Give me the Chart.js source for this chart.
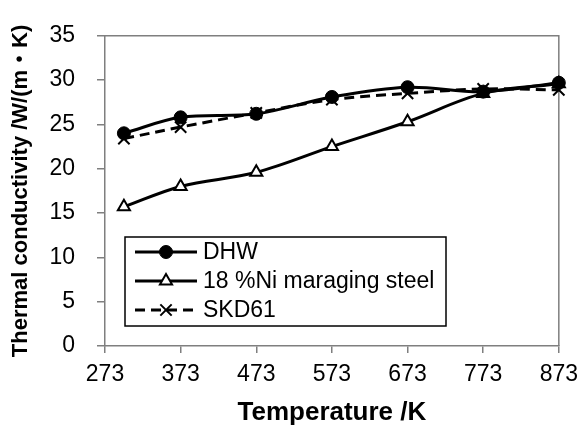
<!DOCTYPE html>
<html>
<head>
<meta charset="utf-8">
<script src="https://cdn.jsdelivr.net/npm/chart.js@4"></script>
<style>
  html, body { margin: 0; padding: 0; background: #fff; }
  #wrap { width: 586px; height: 428px; }
</style>
</head>
<body>
<div id="wrap"><canvas id="chart" width="586" height="428"></canvas></div>
<script>
// Datos
const temperatures = [298, 373, 473, 573, 673, 773, 873];
const dhwValues = [24.0, 25.8, 26.2, 28.1, 29.2, 28.7, 29.7];
const maragingValues = [15.7, 18.0, 19.6, 22.5, 25.3, 28.5, 29.6];
const skd61Values = [23.4, 24.7, 26.3, 27.8, 28.5, 29.0, 28.9];
const xTickValues = [273, 373, 473, 573, 673, 773, 873];

const seriesNames = ["DHW", "18 %Ni maraging steel", "SKD61"];

const AXIS_GRAY = "#7f7f7f";
const TICK_FONT = { family: "Liberation Sans, Arial, sans-serif", size: 23 };
const TITLE_FONT = { family: "Liberation Sans, Arial, 'Noto Sans CJK JP', sans-serif", size: 26, weight: "bold" };

function toPoints(values) {
  return values.map((v, i) => ({ x: temperatures[i], y: v }));
}

/** Marco gris del área del gráfico (arriba y derecha) */
const frameBox = {
  id: "frameBox",
  beforeDatasetsDraw(chart) {
    const { ctx, chartArea: a } = chart;
    ctx.save();
    ctx.strokeStyle = AXIS_GRAY;
    ctx.lineWidth = 1.5;
    ctx.beginPath();
    ctx.moveTo(a.left, a.top);
    ctx.lineTo(a.right, a.top);
    ctx.lineTo(a.right, a.bottom);
    ctx.stroke();
    ctx.restore();
  }
};

/** Leyenda dentro del área, con recuadro negro */
const boxLegend = {
  id: "boxLegend",
  afterDraw(chart) {
    const { ctx } = chart;
    const box = { x: 125, y: 237, w: 321, h: 89 };
    ctx.save();
    ctx.fillStyle = "#fff";
    ctx.fillRect(box.x, box.y, box.w, box.h);
    ctx.strokeStyle = "#000";
    ctx.lineWidth = 1.5;
    ctx.strokeRect(box.x, box.y, box.w, box.h);

    const rows = [252, 281, 310];
    chart.data.datasets.forEach((ds, i) => {
      const y = rows[i];
      ctx.strokeStyle = "#000";
      ctx.lineWidth = 3;
      ctx.setLineDash(ds.borderDash || []);
      ctx.beginPath();
      ctx.moveTo(135, y);
      ctx.lineTo(197, y);
      ctx.stroke();
      ctx.setLineDash([]);

      ctx.fillStyle = ds.pointBackgroundColor;
      ctx.strokeStyle = "#000";
      ctx.lineWidth = ds.pointBorderWidth;
      Chart.helpers.drawPoint(ctx, {
        pointStyle: ds.pointStyle,
        radius: ds.pointRadius,
        borderWidth: ds.pointBorderWidth
      }, 166, y);

      ctx.fillStyle = "#000";
      ctx.font = "23px Liberation Sans, Arial, sans-serif";
      ctx.textBaseline = "middle";
      ctx.textAlign = "left";
      ctx.fillText(ds.label, 203, y + 1);
    });
    ctx.restore();
  }
};

const commonLine = {
  borderColor: "#000",
  borderWidth: 3,
  tension: 0.35,
  pointBorderColor: "#000",
  clip: false
};

new Chart(document.getElementById("chart"), {
  type: "line",
  data: {
    datasets: [
      {
        ...commonLine,
        label: seriesNames[0],
        data: toPoints(dhwValues),
        pointStyle: "circle",
        pointRadius: 6.5,
        pointBackgroundColor: "#000",
        pointBorderWidth: 1
      },
      {
        ...commonLine,
        label: seriesNames[1],
        data: toPoints(maragingValues),
        pointStyle: "triangle",
        pointRadius: 7,
        pointBackgroundColor: "#fff",
        pointBorderWidth: 2
      },
      {
        ...commonLine,
        label: seriesNames[2],
        data: toPoints(skd61Values),
        borderDash: [10, 6],
        pointStyle: "crossRot",
        pointRadius: 8,
        pointBackgroundColor: "#000",
        pointBorderWidth: 2
      }
    ]
  },
  options: {
    responsive: false,
    animation: false,
    events: [],
    layout: { padding: { left: 0, top: 31, right: 21, bottom: 0 } },
    plugins: {
      legend: { display: false },
      tooltip: { enabled: false }
    },
    scales: {
      x: {
        type: "linear",
        min: 273,
        max: 873,
        afterBuildTicks: (scale) => { scale.ticks = xTickValues.map((v) => ({ value: v })); },
        afterFit: (scale) => { scale.height = 82; },
        grid: { drawOnChartArea: false, drawTicks: true, tickLength: 7, color: AXIS_GRAY, lineWidth: 1.5 },
        border: { display: true, color: AXIS_GRAY, width: 1.5 },
        ticks: { color: "#000", font: TICK_FONT, padding: 8, maxRotation: 0, autoSkip: false },
        title: {
          display: true,
          text: "Temperature /K",
          color: "#000",
          font: TITLE_FONT,
          padding: { top: 2, bottom: 0 }
        }
      },
      y: {
        min: 0,
        max: 35,
        afterFit: (scale) => { scale.width = 105; },
        grid: { drawOnChartArea: false, drawTicks: true, tickLength: 8, color: AXIS_GRAY, lineWidth: 1.5 },
        border: { display: true, color: AXIS_GRAY, width: 1.5 },
        ticks: { stepSize: 5, color: "#000", font: TICK_FONT, padding: 22 },
        title: {
          display: true,
          text: "Thermal conductivity /W/(m・K)",
          color: "#000",
          font: { ...TITLE_FONT, size: 22 },
          padding: { top: 8, bottom: 0 }
        }
      }
    }
  },
  plugins: [frameBox, boxLegend]
});
</script>
</body>
</html>
